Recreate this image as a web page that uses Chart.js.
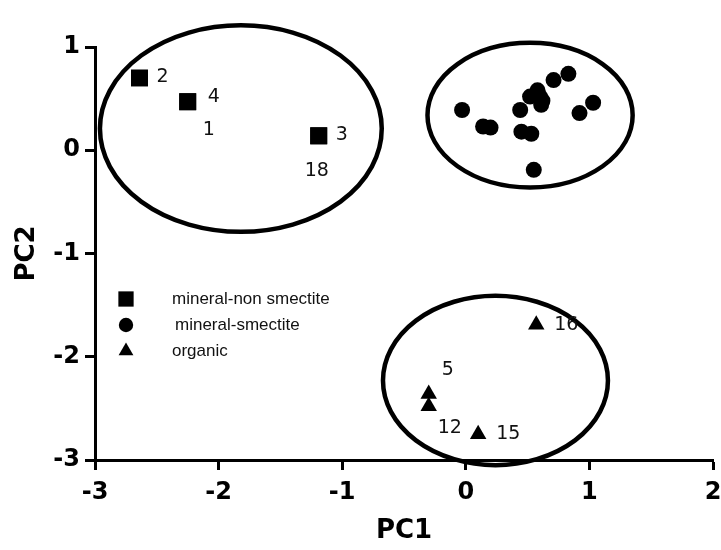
<!DOCTYPE html>
<html lang="en">
<head>
<meta charset="UTF-8">
<title>PCA</title>
<script src="https://cdn.jsdelivr.net/npm/chart.js@4.4.0/dist/chart.umd.min.js"></script>
<style>
  body { margin: 0; background: #fff; }
  #wrap { width: 721px; height: 550px; }
</style>
</head>
<body>
<div id="wrap"><canvas id="pca" width="721" height="550"></canvas></div>

<!-- data -->
<script>
  // mineral-non smectite (squares)
  const squareX = [-2.64, -2.25, -2.25, -1.19, -1.19];
  const squareY = [0.70, 0.47, 0.47, 0.14, 0.14];
  const squareLabels = ['2', '4', '1', '3', '18'];

  // mineral-smectite (circles)
  const circleX = [-0.03, 0.14, 0.20, 0.44, 0.45, 0.53, 0.52, 0.58, 0.61, 0.60, 0.62, 0.71, 0.83, 1.03, 0.92, 0.55];
  const circleY = [0.39, 0.23, 0.22, 0.39, 0.18, 0.16, 0.52, 0.58, 0.44, 0.52, 0.48, 0.68, 0.74, 0.46, 0.36, -0.19];

  // organic (triangles)
  const triangleX = [0.57, -0.30, -0.30, 0.10];
  const triangleY = [-1.69, -2.36, -2.48, -2.75];
  const triangleLabels = ['16', '5', '12', '15'];

  // group ellipses: centre and half-axes in PC units
  const ellipseCX = [-1.82, 0.52, 0.24];
  const ellipseCY = [0.21, 0.34, -2.23];
  const ellipseRX = [1.14, 0.83, 0.91];
  const ellipseRY = [1.00, 0.70, 0.82];

  const xTicks = [-3, -2, -1, 0, 1, 2];
  const yTicks = [-3, -2, -1, 0, 1];
  const seriesNames = ['mineral-non smectite', 'mineral-smectite', 'organic'];
</script>

<script>
  // label offsets in pixels (layout only)
  const squareLabelOffsets = [[17, -1], [20, -5], [15, 28], [17, -1], [-14, 35]];
  const triangleLabelOffsets = [[18, 0], [13, -24], [9, 22], [18, 0]];

  const toPoints = (xs, ys) => xs.map((x, i) => ({ x: x, y: ys[i] }));

  const pointLabels = {
    id: 'pointLabels',
    afterDatasetsDraw(chart) {
      const ctx = chart.ctx;
      ctx.save();
      ctx.fillStyle = '#111';
      ctx.font = '19px "DejaVu Sans"';
      ctx.textBaseline = 'middle';
      ctx.textAlign = 'left';
      chart.data.datasets.forEach((ds, di) => {
        if (!ds.pointLabels) return;
        const meta = chart.getDatasetMeta(di);
        meta.data.forEach((pt, i) => {
          const off = ds.labelOffsets[i];
          ctx.fillText(ds.pointLabels[i], pt.x + off[0], pt.y + off[1]);
        });
      });
      ctx.restore();
    }
  };

  const groupEllipses = {
    id: 'groupEllipses',
    afterDatasetsDraw(chart) {
      const ctx = chart.ctx;
      const xs = chart.scales.x, ys = chart.scales.y;
      ctx.save();
      ctx.strokeStyle = '#000';
      ctx.lineWidth = 4.5;
      ellipseCX.forEach((cx, i) => {
        const px = xs.getPixelForValue(cx);
        const py = ys.getPixelForValue(ellipseCY[i]);
        const rx = Math.abs(xs.getPixelForValue(cx + ellipseRX[i]) - px);
        const ry = Math.abs(ys.getPixelForValue(ellipseCY[i] + ellipseRY[i]) - py);
        ctx.beginPath();
        ctx.ellipse(px, py, rx, ry, 0, 0, Math.PI * 2);
        ctx.stroke();
      });
      ctx.restore();
    }
  };

  // legend sits inside the plot, left side
  const innerLegend = {
    id: 'innerLegend',
    afterDraw(chart) {
      const ctx = chart.ctx;
      const a = chart.chartArea;
      ctx.save();
      ctx.font = '17px "Liberation Sans", Arial';
      ctx.textBaseline = 'middle';
      ctx.textAlign = 'left';
      chart.data.datasets.forEach((ds, i) => {
        const y = a.top + 252 + i * 26;
        ctx.fillStyle = '#000';
        Chart.helpers.drawPoint(ctx, { pointStyle: ds.pointStyle, radius: ds.pointRadius * 0.9, rotation: 0, borderWidth: 0 }, a.left + 31, y);
        ctx.fillStyle = '#111';
        ctx.fillText(seriesNames[i], a.left + (i === 1 ? 80 : 77), y);
      });
      ctx.restore();
    }
  };

  const axisFont = { family: '"DejaVu Sans"', size: 24, weight: 'bold' };
  const titleFont = { family: '"DejaVu Sans"', size: 26, weight: 'bold' };

  new Chart(document.getElementById('pca'), {
    type: 'scatter',
    data: {
      datasets: [
        {
          label: seriesNames[0],
          data: toPoints(squareX, squareY),
          pointStyle: 'rect',
          pointRadius: 12,
          backgroundColor: '#000',
          borderWidth: 0,
          pointLabels: squareLabels,
          labelOffsets: squareLabelOffsets
        },
        {
          label: seriesNames[1],
          data: toPoints(circleX, circleY),
          pointStyle: 'circle',
          pointRadius: 8,
          backgroundColor: '#000',
          borderWidth: 0
        },
        {
          label: seriesNames[2],
          data: toPoints(triangleX, triangleY),
          pointStyle: 'triangle',
          pointRadius: 9.5,
          backgroundColor: '#000',
          borderWidth: 0,
          pointLabels: triangleLabels,
          labelOffsets: triangleLabelOffsets
        }
      ]
    },
    options: {
      responsive: false,
      animation: false,
      layout: { autoPadding: false, padding: { top: 47, right: 0, left: 0, bottom: 0 } },
      plugins: {
        legend: { display: false },
        tooltip: { enabled: false }
      },
      scales: {
        x: {
          type: 'linear',
          min: -3,
          max: 2,
          afterBuildTicks: s => { s.ticks = xTicks.map(v => ({ value: v })); },
          afterFit: s => { s.height = 90; s.paddingRight = 8; s.paddingLeft = 0; },
          border: { display: true, color: '#000', width: 3 },
          grid: { drawOnChartArea: false, drawTicks: true, tickLength: 10, tickWidth: 3, color: '#000' },
          ticks: { color: '#000', font: axisFont, padding: 8 },
          title: { display: true, text: 'PC1', color: '#000', font: titleFont, padding: { top: 0, bottom: 3 } }
        },
        y: {
          type: 'linear',
          min: -3,
          max: 1,
          afterBuildTicks: s => { s.ticks = yTicks.map(v => ({ value: v })); },
          afterFit: s => { s.width = 95; },
          border: { display: true, color: '#000', width: 3 },
          grid: { drawOnChartArea: false, drawTicks: true, tickLength: 10, tickWidth: 3, color: '#000' },
          ticks: { color: '#000', font: axisFont, padding: 5 },
          title: { display: true, text: 'PC2', color: '#000', font: titleFont, padding: { top: 12, bottom: 0 } }
        }
      }
    },
    plugins: [groupEllipses, pointLabels, innerLegend]
  });
</script>
</body>
</html>
